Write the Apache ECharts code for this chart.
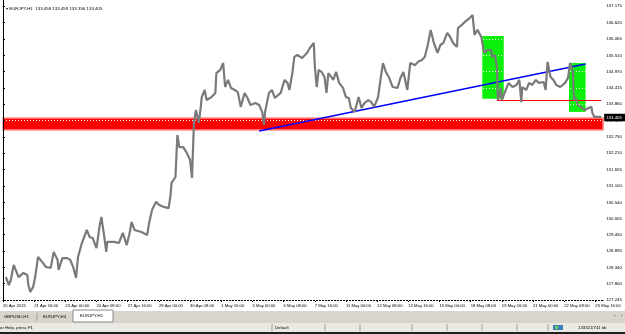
<!DOCTYPE html>
<html>
<head>
<meta charset="utf-8">
<title>EURJPY,H1</title>
<script src="https://cdn.jsdelivr.net/npm/echarts@6/dist/echarts.min.js"></script>
<style>
  html, body { margin: 0; padding: 0; background: #fff; }
  #chart { width: 625px; height: 334px; }
</style>
</head>
<body>
<div id="chart"></div>
<script>
// EURJPY H1, hour index counted from 20 Apr 08:00
const hours = [3, 6, 8, 11, 13, 16, 21, 25, 26, 28, 31, 33, 36, 41, 44, 49, 52, 56, 57, 61,
  66, 69, 72, 75, 77, 81, 86, 89, 92, 96, 99, 101, 104, 106, 107, 114, 119, 123, 127, 130,
  132, 135, 142, 148, 150, 153, 157, 160, 165, 170, 172, 173, 177, 179, 181, 185, 188, 192, 194, 196,
  198, 201, 203, 204, 207, 209, 214, 218, 219, 223, 226, 228, 231, 234, 238, 241, 244, 248, 251, 254,
  259, 263, 266, 268, 269, 273, 276, 279, 285, 289, 292, 294, 297, 299, 302, 307, 312, 315, 319, 320,
  322, 324, 327, 330, 332, 334, 339, 342, 345, 349, 352, 355, 357, 361, 365, 368, 371, 375, 378, 381,
  385, 387, 390, 393, 396, 400, 405, 408, 411, 415, 418, 423, 426, 430, 433, 436, 439, 442, 446, 449,
  452, 456, 459, 462, 466, 467, 471, 474, 479, 482, 484, 487, 491, 492, 494, 497, 501, 502, 505, 507,
  508, 511, 512, 516, 519, 523, 527, 530, 532, 533, 537, 540, 543, 547, 550, 555, 557, 559, 562, 565,
  568, 572, 577, 580, 582, 583, 585, 586, 588, 590, 593, 597, 601, 604, 605, 607, 609, 613, 614]
const prices = [128.02, 127.75, 127.92, 128.43, 128.26, 128.02, 128.16, 128.09, 127.75, 127.52, 127.69, 128.02, 128.70, 128.50, 128.36, 128.33, 128.87, 128.60, 128.26, 128.66,
  128.66, 128.60, 128.36, 127.99, 128.70, 129.17, 129.61, 129.37, 129.34, 129.00, 129.71, 130.05, 129.37, 128.87, 129.21, 129.21, 129.17, 129.51, 129.10, 129.51,
  129.88, 129.61, 129.54, 129.44, 129.85, 130.29, 130.56, 130.46, 130.39, 130.35, 130.79, 131.20, 131.40, 132.82, 132.41, 132.41, 132.25, 131.98, 131.37, 133.23,
  133.66, 133.23, 133.77, 134.10, 134.34, 134.00, 134.10, 134.24, 134.91, 135.02, 135.25, 134.44, 134.68, 134.41, 134.34, 134.27, 133.77, 134.24, 134.07, 133.83,
  133.90, 133.83, 133.60, 133.16, 133.60, 134.24, 134.34, 134.07, 134.24, 134.68, 134.58, 134.34, 134.91, 135.46, 135.52, 135.42, 135.59, 135.76, 135.93, 135.18,
  134.44, 135.02, 134.95, 134.78, 134.24, 134.91, 134.68, 134.95, 134.58, 134.41, 134.10, 134.07, 133.73, 133.60, 134.10, 133.73, 133.90, 134.00, 133.93, 133.77,
  134.10, 134.58, 135.25, 134.95, 134.78, 134.44, 134.41, 134.75, 134.95, 134.34, 135.25, 135.18, 135.29, 135.35, 135.46, 135.86, 136.37, 135.96, 135.59, 135.86,
  135.93, 136.27, 136.13, 135.93, 135.79, 136.43, 136.54, 136.64, 136.77, 136.87, 136.20, 136.37, 136.13, 135.93, 135.59, 135.69, 135.69, 135.46, 135.52, 135.12,
  134.00, 134.41, 134.00, 134.34, 134.58, 134.44, 134.51, 134.68, 133.93, 134.44, 134.34, 134.58, 134.51, 134.68, 134.58, 134.61, 134.34, 135.29, 134.78, 134.68,
  134.51, 134.44, 134.58, 134.75, 135.25, 135.18, 134.95, 134.00, 134.07, 133.83, 133.77, 133.66, 133.73, 133.77, 133.56, 133.43, 133.39, 133.43, 133.41]

const xTickHours = [0, 32, 64, 96, 128, 160, 192, 224, 256, 288, 320, 352, 384, 416, 448, 480, 512, 544, 576, 608]
const xTickLabels = ['20 Apr 2015', '21 Apr 16:00', '23 Apr 00:00', '24 Apr 08:00', '27 Apr 16:00', '29 Apr 00:00',
  '30 Apr 08:00', '1 May 16:00', '5 May 00:00', '6 May 08:00', '7 May 16:00', '11 May 00:00', '12 May 08:00',
  '13 May 16:00', '15 May 00:00', '18 May 08:00', '19 May 16:00', '21 May 00:00', '22 May 08:00', '25 May 16:00']
const yTickLabels = ['137.175', '136.620', '136.065', '135.510', '134.970', '134.415', '133.860', '133.305', '132.750',
  '132.210', '131.655', '131.100', '130.540', '130.005', '129.450', '128.895', '128.340', '127.800', '127.245']
const yTickValues = yTickLabels.map(Number)

const ohlc = ['133.458', '133.459', '133.356', '133.405']
const lastPrice = 133.405

// drawn objects
const bandPrices = [133.39, 132.99]
const trendLine = [[263, 132.955], [598, 135.22]]
const resistance = { from: 507, to: 614, price: 134.0 }
const boxes = [
  { from: 492, to: 514, high: 136.16, low: 134.04 },
  { from: 581, to: 598, high: 135.25, low: 133.60 }
]

const FONT = 'Liberation Sans, Arial, sans-serif'

const chart = echarts.init(document.getElementById('chart'), null, { renderer: 'canvas' })

const statusText = (text, x, y) => ({
  type: 'text', x: x, y: y, silent: true,
  style: { text: text, fill: '#000', font: '4.3px ' + FONT, textVerticalAlign: 'middle' }
})
const vline = (x, y1, y2, color) => ({
  type: 'line', silent: true,
  shape: { x1: x, y1: y1, x2: x, y2: y2 },
  style: { stroke: color || '#a0a0a0', lineWidth: 1 }
})

chart.setOption({
  animation: false,
  backgroundColor: '#fff',
  title: {
    text: '\u25BE EURJPY,H1  ' + ohlc.join(' '),
    left: 1,
    top: 2,
    textStyle: { fontSize: 4.4, fontWeight: 'normal', color: '#000', fontFamily: FONT }
  },
  grid: { left: -3, right: 20, top: 0, bottom: 34 },
  xAxis: {
    type: 'value',
    min: 0,
    max: 616,
    axisLine: { show: true, onZero: false, lineStyle: { color: '#000', width: 1 } },
    axisTick: { show: true, length: 2, customValues: xTickHours, lineStyle: { color: '#000' } },
    axisLabel: {
      customValues: xTickHours,
      formatter: v => xTickLabels[xTickHours.indexOf(v)] || '',
      align: 'left',
      margin: 4,
      fontSize: 4.2,
      color: '#000',
      fontFamily: FONT
    },
    splitLine: { show: false }
  },
  yAxis: {
    type: 'value',
    position: 'right',
    min: 127.245,
    max: 137.38,
    z: 3,
    axisLine: { show: true, lineStyle: { color: '#000', width: 1 } },
    axisTick: { show: true, length: 2, customValues: yTickValues, lineStyle: { color: '#000' } },
    axisLabel: {
      customValues: yTickValues,
      formatter: v => v.toFixed(3),
      margin: 3,
      fontSize: 4.4,
      color: '#000',
      fontFamily: FONT
    },
    splitLine: { show: true, lineStyle: { color: '#ffffff', width: 1, type: [1, 2] } }
  },
  series: [
    {
      // objects behind the grid: zones, boxes, trend lines
      type: 'line',
      data: [],
      z: 1,
      silent: true,
      markArea: {
        silent: true,
        data: [
          [
            { coord: [0, bandPrices[0]], itemStyle: { color: '#ff0000', borderColor: '#ff9090', borderWidth: 1.5 } },
            { coord: [616, bandPrices[1]] }
          ]
        ].concat(boxes.map(b => [
          { coord: [b.from, b.high], itemStyle: { color: '#0af00a', borderColor: '#0af00a', borderWidth: 0 } },
          { coord: [b.to, b.low] }
        ]))
      },
      markLine: {
        silent: true,
        symbol: ['none', 'none'],
        label: { show: false },
        data: [
          [
            { coord: trendLine[0], lineStyle: { color: '#0000ff', width: 1.6, type: 'solid' } },
            { coord: trendLine[1] }
          ],
          [
            { coord: [resistance.from, resistance.price], lineStyle: { color: '#ff0000', width: 1, type: 'solid' } },
            { coord: [resistance.to, resistance.price] }
          ]
        ]
      }
    },
    {
      name: 'EURJPY,H1',
      type: 'line',
      z: 5,
      data: hours.map((h, i) => [h, prices[i]]),
      showSymbol: false,
      symbol: 'none',
      lineStyle: { color: '#7a7a7a', width: 2.2 },
      markLine: {
        silent: true,
        symbol: ['none', 'none'],
        lineStyle: { color: 'rgba(0,0,0,0)', width: 0 },
        label: {
          show: true,
          position: 'end',
          distance: 1,
          formatter: () => lastPrice.toFixed(3),
          backgroundColor: '#000',
          color: '#fff',
          fontSize: 4.4,
          fontFamily: FONT,
          padding: [2, 3, 1.5, 2]
        },
        data: [{ yAxis: lastPrice }]
      }
    }
  ],
  graphic: [
    // tab strip
    { type: 'rect', silent: true, shape: { x: 0, y: 311, width: 625, height: 12 }, style: { fill: '#d8d5cd' } },
    { type: 'rect', silent: true, shape: { x: 73, y: 310, width: 40, height: 12 }, style: { fill: '#ffffff', stroke: '#8a8a8a', lineWidth: 1 } },
    statusText('GBPUSD,H1', 4, 317),
    vline(37, 313, 321),
    statusText('EURJPY,H4', 43, 317),
    statusText('EURJPY,H1', 80, 316),
    statusText('\u2039', 614, 316),
    statusText('\u203A', 621, 316),
    // status bar
    { type: 'rect', silent: true, shape: { x: 0, y: 323, width: 625, height: 9 }, style: { fill: '#ebe9e3' } },
    vline(272, 324, 331),
    vline(325, 324, 331),
    vline(360, 324, 331),
    vline(412, 324, 331),
    vline(447, 324, 331),
    vline(482, 324, 331),
    vline(517, 324, 331),
    vline(548, 324, 331),
    statusText('or Help, press F1', 0, 328),
    statusText('Default', 275, 328),
    { type: 'rect', silent: true, shape: { x: 553, y: 325, width: 10, height: 5 }, style: { fill: '#3c7fb8' } },
    { type: 'rect', silent: true, shape: { x: 555, y: 326, width: 3, height: 3 }, style: { fill: '#6fcf5a' } },
    statusText('133321/741 kb', 578, 328),
    { type: 'rect', silent: true, shape: { x: 0, y: 332, width: 625, height: 2 }, style: { fill: '#202020' } }
  ]
})
</script>
</body>
</html>
